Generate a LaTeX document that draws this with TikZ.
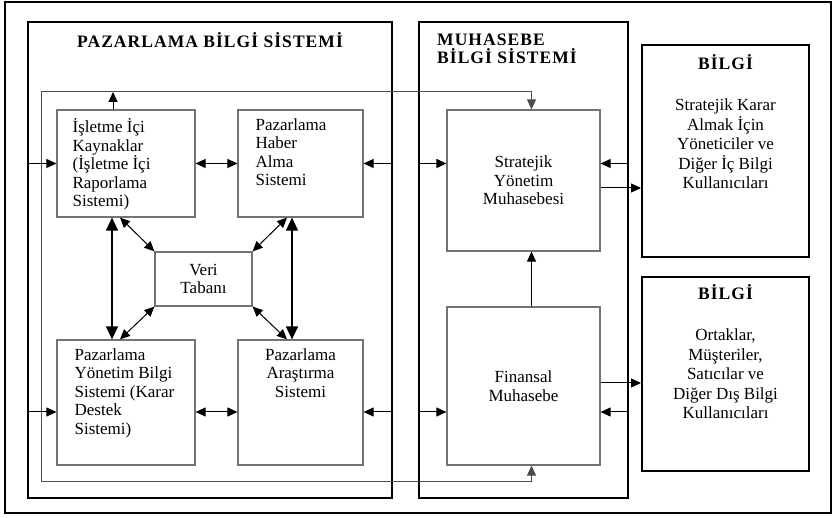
\documentclass[tikz,border=0pt]{standalone}
\usepackage{fontspec}
\setmainfont{Liberation Serif}
\newfontfamily\ttlfont[LetterSpace=6]{Liberation Serif}
\usetikzlibrary{arrows.meta}

\begin{document}
\begin{tikzpicture}[x=1pt,y=1pt,>={Triangle[length=10pt,width=9pt]},
  font=\fontsize{17}{18.5}\selectfont,
  frame/.style={draw,line width=2.6pt,inner sep=0pt},
  sysbox/.style={draw,line width=1.8pt,inner sep=0pt},
  inbox/.style={draw=black!55,line width=1.2pt,inner sep=0pt},
  infobox/.style={draw,line width=2pt,inner sep=0pt},
  txt/.style={inner sep=0pt,align=left},
  ctxt/.style={inner sep=0pt,align=center},
  wtxt/.style={ctxt,font=\fontsize{17}{19.5}\selectfont},
  ttl/.style={inner sep=0pt,font=\ttlfont\bfseries\fontsize{17.5}{18.5}\selectfont},
  bus/.style={draw=black!70,line width=1pt},
  arr/.style={->,line width=1pt},
  dbl/.style={<->,line width=1.6pt,>={Triangle[length=13pt,width=12pt]}}]
  \useasboundingbox (0,0) rectangle (835,518);
  \node[frame,minimum width=826pt,minimum height=511pt] (frm) at (418,260.5) {};

  % the two systems
  \node[sysbox,minimum width=364pt,minimum height=476pt] (pbs) at (210,258) {};
  \node[sysbox,minimum width=209pt,minimum height=476pt] (mbs) at (523.5,258) {};
  \node[ttl] (pbst) at (210,478) {PAZARLAMA BİLGİ SİSTEMİ};
  \node[ttl,anchor=west,align=left] (mbst) at (437,469) {MUHASEBE\\BİLGİ SİSTEMİ};

  % marketing sub-systems
  \node[inbox,minimum width=138pt,minimum height=107pt] (isletme) at (126,354.5) {};
  \node[inbox,minimum width=125pt,minimum height=107pt] (haber) at (300.5,354.5) {};
  \node[inbox,minimum width=138pt,minimum height=125pt] (yonetim) at (126,115.5) {};
  \node[inbox,minimum width=125pt,minimum height=125pt] (arastirma) at (300.5,115.5) {};
  \node[inbox,minimum width=97pt,minimum height=54pt,align=center] (veri) at (203.5,239) {Veri\\Tabanı};
  \node[txt,anchor=north west] (isletmet) at ([xshift=16pt,yshift=-9pt]isletme.north west) {İşletme İçi\\Kaynaklar\\(İşletme İçi\\Raporlama\\Sistemi)};
  \node[txt,anchor=north west] (habert) at ([xshift=18pt,yshift=-9pt]haber.north west) {Pazarlama\\Haber\\Alma\\Sistemi};
  \node[txt,anchor=north west] (yonetimt) at ([xshift=18pt,yshift=-9pt]yonetim.north west) {Pazarlama\\Yönetim Bilgi\\Sistemi (Karar\\Destek\\Sistemi)};
  \node[ctxt,anchor=north] (arastirmat) at ([yshift=-9pt]arastirma.north) {Pazarlama\\Araştırma\\Sistemi};

  % accounting sub-systems
  \node[inbox,minimum width=153pt,minimum height=141pt,align=center] (stratejik) at (523.5,337.5) {Stratejik\\Yönetim\\Muhasebesi};
  \node[inbox,minimum width=153pt,minimum height=158pt,align=center] (finansal) at (523.5,132) {Finansal\\Muhasebe};

  % users
  \node[infobox,minimum width=167pt,minimum height=212pt] (bilgi1) at (725.5,367) {};
  \node[ttl] (bilgi1t) at ([yshift=-18pt]bilgi1.north) {BİLGİ};
  \node[wtxt] (bilgi1x) at (725.5,374) {Stratejik Karar\\Almak İçin\\Yöneticiler ve\\Diğer İç Bilgi\\Kullanıcıları};
  \node[infobox,minimum width=167pt,minimum height=194pt] (bilgi2) at (725.5,144) {};
  \node[ttl] (bilgi2t) at ([yshift=-16pt]bilgi2.north) {BİLGİ};
  \node[wtxt] (bilgi2x) at (725.5,144) {Ortaklar,\\Müşteriler,\\Satıcılar ve\\Diğer Dış Bilgi\\Kullanıcıları};

  % bus round the marketing system
  \coordinate (bustl) at (41,426);
  \coordinate (busbl) at (41,36);
  \draw[bus] (bustl) -- (busbl);
  \draw[bus,->] (bustl) -| ([xshift=8pt]stratejik.north);
  \draw[bus,->] (busbl) -| ([xshift=8pt]finansal.south);
  \draw[arr] ([xshift=-13pt]isletme.north) -- ([xshift=-13pt]isletme.north |- bustl);

  % flows, upper row
  \draw[arr] (pbs.west |- isletme) -- (isletme.west);
  \draw[arr,<->] (isletme) -- (haber);
  \draw[arr] (pbs.east |- haber) -- (haber.east);
  \draw[arr] (mbs.west |- isletme) -- (stratejik.west |- isletme);
  \draw[arr] (mbs.east |- isletme) -- (stratejik.east |- isletme);
  \draw[arr] ([yshift=-7.5pt]stratejik.east) coordinate (s1) -- (s1 -| bilgi1.west);

  % flows, lower row
  \coordinate (low) at ([yshift=-9.5pt]yonetim.center);
  \draw[arr] (pbs.west |- low) -- (yonetim.west |- low);
  \draw[arr,<->] (yonetim.east |- low) -- (arastirma.west |- low);
  \draw[arr] (pbs.east |- low) -- (arastirma.east |- low);
  \draw[arr] (mbs.west |- low) -- (finansal.west |- low);
  \draw[arr] (mbs.east |- low) -- (finansal.east |- low);
  \draw[arr] ([yshift=3pt]finansal.east) coordinate (f1) -- (f1 -| bilgi2.west);
  \draw[arr] ([xshift=8pt]finansal.north) -- ([xshift=8pt]stratejik.south);

  % data base links
  \draw[dbl] ([xshift=-14pt]isletme.south) -- ([xshift=-14pt]yonetim.north);
  \draw[dbl] ([xshift=-8.5pt]haber.south) -- ([xshift=-8.5pt]arastirma.north);
  \draw[arr,<->] ([xshift=-6pt]isletme.south) -- (veri.north west);
  \draw[arr,<->] ([xshift=-13.5pt]haber.south) -- (veri.north east);
  \draw[arr,<->] (veri.south west) -- ([xshift=-6pt]yonetim.north);
  \draw[arr,<->] (veri.south east) -- ([xshift=-13.5pt]arastirma.north);
\end{tikzpicture}
\end{document}
